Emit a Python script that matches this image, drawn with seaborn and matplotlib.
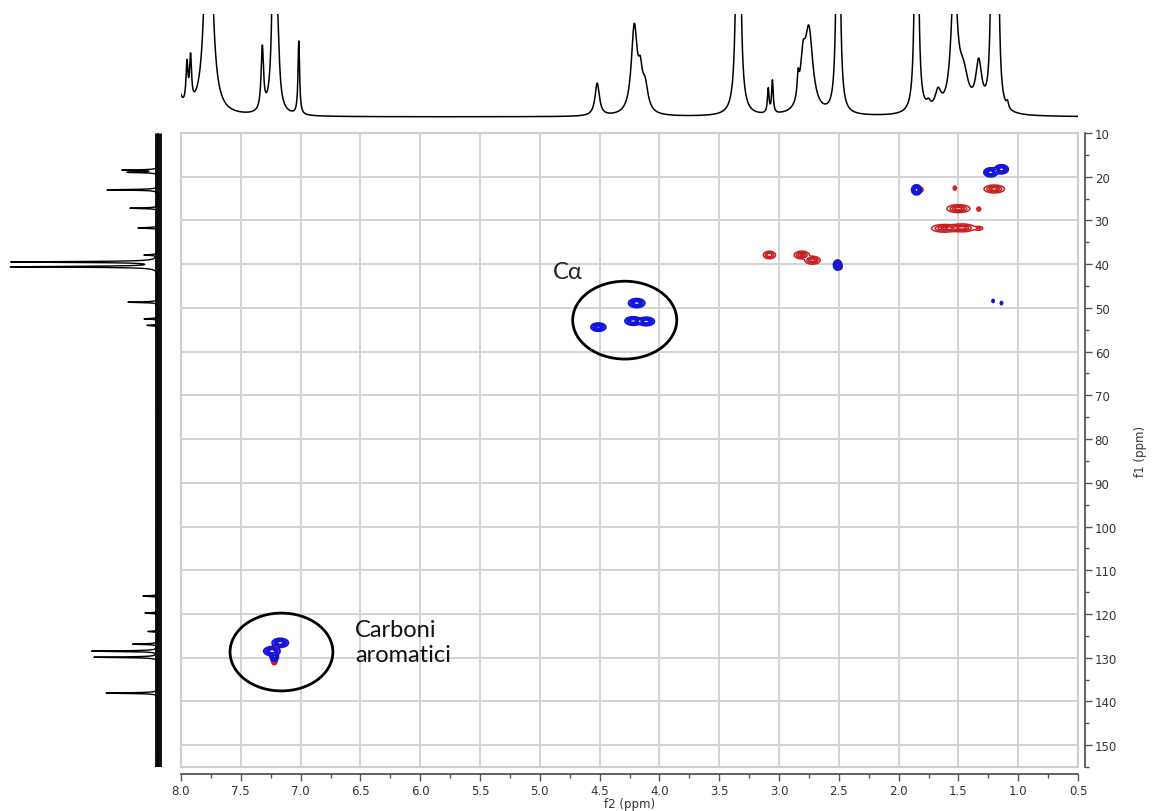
import numpy as np
import pandas as pd
import matplotlib
matplotlib.use("Agg")
import matplotlib.pyplot as plt
from matplotlib.patches import Ellipse, Rectangle
from matplotlib.ticker import MultipleLocator
import seaborn as sns

# ---------------- data ----------------
# 1H projection (top): peak centre (ppm), height (relative), half width (ppm)
h1_ppm    = [8.03, 7.95, 7.92, 7.77, 7.32, 7.22, 7.19, 7.015, 4.52, 4.21, 4.16, 4.12,
             3.34, 3.09, 3.055, 2.84, 2.80, 2.75, 2.505, 1.85, 1.75, 1.67, 1.535, 1.46,
             1.33, 1.215, 1.175, 1.09]
h1_height = [30, 40, 45, 300, 62, 300, 40, 72, 32, 85, 28, 25,
             600, 24, 32, 22, 40, 80, 600, 600, 6, 18, 130, 35,
             45, 300, 300, 6]
h1_hwhm   = [0.03, 0.01, 0.01, 0.03, 0.012, 0.015, 0.015, 0.008, 0.022, 0.03, 0.02, 0.03,
             0.012, 0.008, 0.008, 0.01, 0.025, 0.04, 0.01, 0.01, 0.02, 0.03, 0.03, 0.05,
             0.03, 0.012, 0.012, 0.01]

# 13C projection (left): peak centre (ppm), height, half width (ppm)
c13_ppm    = [18.5, 19.0, 23.0, 27.2, 31.7, 37.9, 39.5, 40.6, 48.7, 52.5, 54.0,
              115.9, 119.8, 124.0, 126.9, 128.5, 129.9, 138.1]
c13_height = [35, 30, 51, 28, 20, 13, 146, 146, 30, 14, 11,
              15, 13, 10, 25, 66, 64, 52]
c13_hwhm   = [0.1, 0.1, 0.1, 0.1, 0.1, 0.1, 0.12, 0.12, 0.1, 0.1, 0.1,
              0.1, 0.1, 0.1, 0.1, 0.1, 0.1, 0.1]

# HSQC cross peaks: 1H ppm, 13C ppm, spread H, spread C, intensity
red_h   = [1.20, 1.53, 1.50, 1.33, 1.62, 1.47, 1.33, 3.08, 2.81, 2.72, 2.49, 1.81, 7.22, 7.21]
red_c   = [22.8, 22.6, 27.3, 27.4, 31.8, 31.7, 31.8, 37.9, 37.9, 39.1, 40.5, 23.0, 130.8, 127.6]
red_sh  = [0.04, 0.008, 0.045, 0.01, 0.05, 0.05, 0.02, 0.025, 0.03, 0.03, 0.01, 0.008, 0.012, 0.01]
red_sc  = [0.42, 0.3, 0.42, 0.3, 0.42, 0.42, 0.25, 0.42, 0.42, 0.42, 0.4, 0.3, 0.4, 0.3]
red_amp = [1.0, 0.35, 1.0, 0.35, 0.9, 1.0, 0.4, 0.8, 0.9, 1.0, 0.6, 0.5, 0.7, 0.4]

blue_h   = [1.23, 1.14, 1.85, 2.51, 1.21, 1.14, 4.19, 4.51, 4.22, 4.11, 7.17, 7.24, 7.22]
blue_c   = [19.0, 18.3, 23.0, 40.2, 48.4, 48.9, 48.9, 54.4, 53.0, 53.1, 126.6, 128.5, 129.8]
blue_sh  = [0.025, 0.025, 0.018, 0.015, 0.005, 0.005, 0.03, 0.028, 0.03, 0.03, 0.03, 0.03, 0.015]
blue_sc  = [0.45, 0.45, 0.5, 0.5, 0.2, 0.2, 0.45, 0.42, 0.42, 0.42, 0.45, 0.45, 0.45]
blue_amp = [1.0, 1.0, 1.0, 1.0, 0.3, 0.3, 1.0, 0.9, 1.0, 1.0, 1.0, 1.0, 0.9]

f2_ticks = [8.0, 7.5, 7.0, 6.5, 6.0, 5.5, 5.0, 4.5, 4.0, 3.5, 3.0, 2.5, 2.0, 1.5, 1.0, 0.5]
f1_ticks = [10, 20, 30, 40, 50, 60, 70, 80, 90, 100, 110, 120, 130, 140, 150]

# ---------------- figure ----------------
sns.set_style("white")
plt.rcParams["font.family"] = ["DejaVu Sans"]

W, Hh = 1152, 812
fig = plt.figure(figsize=(W / 100, Hh / 100), dpi=100)

def fr(x0, y0, x1, y1):
    return [x0 / W, 1 - y1 / Hh, (x1 - x0) / W, (y1 - y0) / Hh]

ax = fig.add_axes(fr(181, 134, 1078, 768))
ax_top = fig.add_axes(fr(181, 15, 1078, 120))
ax_left = fig.add_axes(fr(0, 134, 166, 768))

# ---- top 1H trace
xh = np.linspace(8.0, 0.5, 6000)
yh = np.zeros_like(xh)
for p, h, w in zip(h1_ppm, h1_height, h1_hwhm):
    yh += h / (1 + ((xh - p) / w) ** 2)
df_top = pd.DataFrame({"ppm": xh, "int": yh})
sns.lineplot(data=df_top, x="ppm", y="int", ax=ax_top, color="black", lw=1.1,
             sort=False, estimator=None)
ax_top.set_xlim(8.0, 0.5)
ax_top.set_ylim(-2, 101)
ax_top.axis("off")

# ---- left 13C trace
yc = np.linspace(10, 155, 8000)
xc = np.zeros_like(yc)
for p, h, w in zip(c13_ppm, c13_height, c13_hwhm):
    xc += h / (1 + ((yc - p) / w) ** 2)
df_left = pd.DataFrame({"ppm": yc, "int": xc})
ax_left.plot(np.zeros(2), [10, 155], color="#111111", lw=5.0, solid_capstyle="butt")
sns.lineplot(data=df_left, x="int", y="ppm", ax=ax_left, color="black", lw=1.0,
             sort=False, estimator=None, orient="y")
ax_left.set_ylim(155, 10)
ax_left.set_xlim(158, -8)
ax_left.axis("off")

# ---- HSQC contours
gx = np.arange(0.5, 8.0, 0.003)
gy = np.arange(10, 155, 0.08)
GX, GY = np.meshgrid(gx, gy)

def field(hs, cs, shs, scs, amps):
    Z = np.zeros_like(GX)
    for h, c, sh, sc, a in zip(hs, cs, shs, scs, amps):
        mx = np.abs(gx - h) < 8 * sh + 0.02
        my = np.abs(gy - c) < 8 * sc + 0.5
        sub = np.ix_(my, mx)
        Z[sub] += a * np.exp(-0.5 * (((GX[sub] - h) / sh) ** 2 + ((GY[sub] - c) / sc) ** 2))
    return Z

Zr = field(red_h, red_c, red_sh, red_sc, red_amp)
Zb = field(blue_h, blue_c, blue_sh, blue_sc, blue_amp)
ax.contour(GX, GY, Zr, levels=[0.1, 0.3, 0.55, 0.8], colors="#c81e1e", linewidths=1.1)
ax.contour(GX, GY, Zb, levels=[0.08, 0.25, 0.45, 0.7],
           colors="#1414dc", linewidths=1.4)

ax.set_xlim(8.0, 0.5)
ax.set_ylim(155, 10)
ax.set_xticks(f2_ticks)
ax.set_xticklabels([f"{t:.1f}" for t in f2_ticks])
ax.set_yticks(f1_ticks)
ax.set_yticklabels([str(t) for t in f1_ticks])
ax.xaxis.set_minor_locator(MultipleLocator(0.25))
ax.yaxis.set_minor_locator(MultipleLocator(5))
ax.grid(True, which="major", color="#d4d4d4", lw=1.4)
ax.set_axisbelow(True)

for s in ["top", "left"]:
    ax.spines[s].set_visible(False)
for s in ["bottom", "right"]:
    ax.spines[s].set_position(("outward", 5))
    ax.spines[s].set_color("#555555")
    ax.spines[s].set_linewidth(1.3)
ax.yaxis.tick_right()
ax.yaxis.set_label_position("right")
ax.tick_params(axis="both", which="major", direction="out", length=5, width=1.0,
               color="#555555", labelsize=8.5, labelcolor="#333333", pad=2)
ax.tick_params(axis="both", which="minor", direction="out", length=3, width=1.0,
               color="#555555")
ax.tick_params(axis="x", which="both", bottom=True, top=False)
ax.tick_params(axis="y", which="both", right=True, left=False)
ax.add_patch(Rectangle((0, 0), 1, 1, transform=ax.transAxes, fill=False,
                       edgecolor="#cfcfcf", lw=1.5, clip_on=False))
ax.set_xlabel("f2 (ppm)", fontsize=8.5, color="#333333", labelpad=0)
ax.set_ylabel("f1 (ppm)", fontsize=8.5, color="#333333", labelpad=12)

# ---- annotations
ax.add_patch(Ellipse((4.29, 52.8), 0.87, 17.8, fill=False, edgecolor="black", lw=2.0))
ax.add_patch(Ellipse((7.16, 128.7), 0.86, 17.8, fill=False, edgecolor="black", lw=2.0))
ax.text(4.89, 41.6, "Cα", fontsize=17, family=["Lato", "DejaVu Sans"], color="#222222",
        ha="left", va="center")
ax.text(6.545, 126.4, "Carboni\naromatici", fontsize=17, family=["Lato", "DejaVu Sans"],
        color="#111111", ha="left", va="center", linespacing=1.25)

fig.savefig("out.png", dpi=100)
